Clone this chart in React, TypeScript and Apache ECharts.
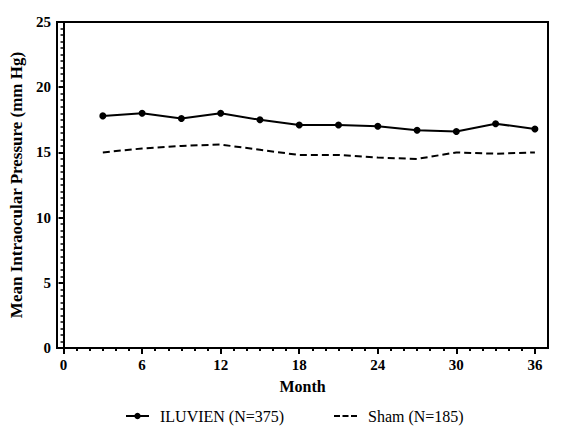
import React, { useEffect, useRef } from "react";
import * as echarts from "echarts";

const months = [3, 6, 9, 12, 15, 18, 21, 24, 27, 30, 33, 36];
const iluvien = [17.8, 18.0, 17.6, 18.0, 17.5, 17.1, 17.1, 17.0, 16.7, 16.6, 17.2, 16.8];
const sham = [15.0, 15.3, 15.5, 15.6, 15.2, 14.8, 14.8, 14.6, 14.5, 15.0, 14.9, 15.0];

const xMajorTicks = [0, 6, 12, 18, 24, 30, 36];
const xMinorTicks = [1, 2, 3, 4, 5, 7, 8, 9, 10, 11, 13, 14, 15, 16, 17, 19, 20, 21, 22, 23, 25, 26, 27, 28, 29, 31, 32, 33, 34, 35];

const SERIF = "'Liberation Serif', 'Times New Roman', serif";

// three short dashes for the Sham legend key
const dashIcon = "path://M0,0H6V2H0Z M8.5,0H14.5V2H8.5Z M17,0H23V2H17Z";

const App: React.FC = () => {
  const chartRef = useRef<HTMLDivElement>(null);

  useEffect(() => {
    if (!chartRef.current) return;
    const chart = echarts.init(chartRef.current, undefined, { renderer: "svg" });

    const bold = { fontFamily: SERIF, fontWeight: "bold" as const, color: "#000" };

    chart.setOption({
      animation: false,
      backgroundColor: "#fff",
      grid: {
        left: 57,
        right: 31,
        top: 22,
        bottom: 79,
        show: true,
        borderColor: "#000",
        borderWidth: 2,
      },
      legend: [
        {
          left: 120,
          top: 403,
          data: ["ILUVIEN (N=375)"],
          itemWidth: 23,
          itemHeight: 8,
          textStyle: { fontFamily: SERIF, fontSize: 16, color: "#000", padding: [0, 0, 0, 6] },
        },
        {
          left: 329,
          top: 403,
          data: [{ name: "Sham (N=185)", icon: dashIcon }],
          itemWidth: 23,
          itemHeight: 2,
          textStyle: { fontFamily: SERIF, fontSize: 16, color: "#000", padding: [0, 0, 0, 6] },
        },
      ],
      xAxis: [
        {
          type: "value",
          min: -0.5,
          max: 37,
          position: "bottom",
          name: "Month",
          nameLocation: "middle",
          nameGap: 30,
          nameTextStyle: { ...bold, fontSize: 16 },
          axisLine: { show: true, lineStyle: { color: "#000", width: 2 } },
          axisTick: {
            show: true,
            customValues: xMajorTicks,
            length: 6,
            lineStyle: { color: "#000", width: 2 },
          },
          axisLabel: { ...bold, fontSize: 15, margin: 9, customValues: xMajorTicks },
          splitLine: { show: false },
        },
        {
          type: "value",
          min: -0.5,
          max: 37,
          position: "bottom",
          axisLine: { show: false },
          axisTick: {
            show: true,
            customValues: xMinorTicks,
            length: 3,
            lineStyle: { color: "#000", width: 2 },
          },
          axisLabel: { show: false },
          splitLine: { show: false },
        },
      ],
      yAxis: {
        type: "value",
        min: 0,
        max: 25,
        interval: 5,
        name: "Mean Intraocular Pressure (mm Hg)",
        nameLocation: "middle",
        nameGap: 32,
        nameTextStyle: { ...bold, fontSize: 17 },
        axisLine: { show: true, lineStyle: { color: "#000", width: 2 } },
        axisTick: { show: true, length: 5, lineStyle: { color: "#000", width: 2 } },
        minorTick: { show: true, splitNumber: 10, length: 3, lineStyle: { color: "#000", width: 1.5 } },
        axisLabel: { ...bold, fontSize: 15, margin: 6 },
        splitLine: { show: false },
      },
      series: [
        {
          name: "ILUVIEN (N=375)",
          type: "line",
          data: months.map((m, i) => [m, iluvien[i]]),
          symbol: "circle",
          symbolSize: 7,
          itemStyle: { color: "#000" },
          lineStyle: { color: "#000", width: 2 },
        },
        {
          name: "Sham (N=185)",
          type: "line",
          data: months.map((m, i) => [m, sham[i]]),
          symbol: "none",
          itemStyle: { color: "#000" },
          lineStyle: { color: "#000", width: 2, type: [7, 4] },
        },
      ],
    });

    return () => {
      chart.dispose();
    };
  }, []);

  return (
    <div
      ref={chartRef}
      style={{ position: "fixed", left: 0, top: 0, width: "579px", height: "427px", background: "#fff" }}
    />
  );
};

export default App;
